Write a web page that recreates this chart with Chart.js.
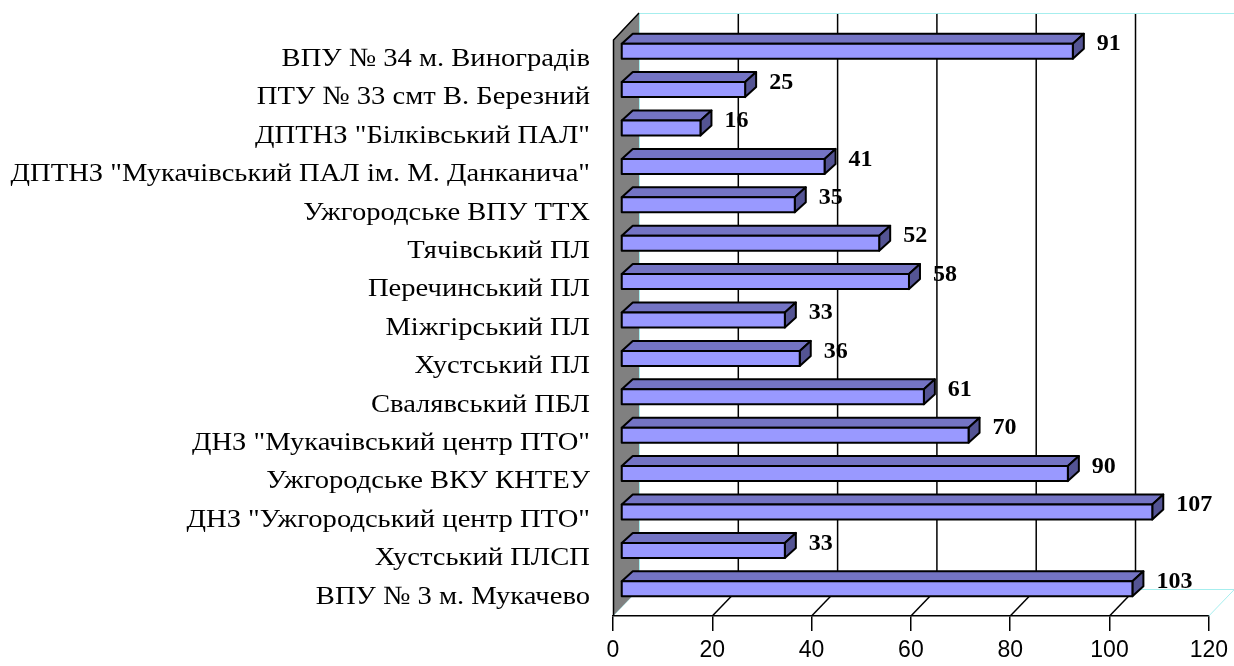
<!DOCTYPE html>
<html>
<head>
<meta charset="utf-8">
<script src="https://cdn.jsdelivr.net/npm/chart.js@4"></script>
<style>
  html, body { margin: 0; padding: 0; background: #fff; }
  canvas { display: block; }
</style>
</head>
<body>
<canvas id="chart" width="1234" height="666"></canvas>
<script>
// categories top to bottom, as in the picture
const categories = [
    'ВПУ № 34 м. Виноградів',
    'ПТУ № 33 смт В. Березний',
    'ДПТНЗ "Білківський ПАЛ"',
    'ДПТНЗ "Мукачівський ПАЛ ім. М. Данканича"',
    'Ужгородське ВПУ ТТХ',
    'Тячівський ПЛ',
    'Перечинський ПЛ',
    'Міжгірський ПЛ',
    'Хустський ПЛ',
    'Свалявський ПБЛ',
    'ДНЗ "Мукачівський центр ПТО"',
    'Ужгородське ВКУ КНТЕУ',
    'ДНЗ "Ужгородський центр ПТО"',
    'Хустський ПЛСП',
    'ВПУ № 3 м. Мукачево'
];
const values = [91, 25, 16, 41, 35, 52, 58, 33, 36, 61, 70, 90, 107, 33, 103];
const xTicks = [0, 20, 40, 60, 80, 100, 120];

// 3D look (pixels)
const DX = 26, DY = -27;          // depth of the box
const BAR_X = 8, BAR_Y = -8;      // where the bars sit in the depth
const BAR_H = 15;                 // front face height
const BDX = 11, BDY = -10;        // bar depth
const CYAN = '#a6eeee';

const walls = {
    id: 'walls',
    beforeDatasetsDraw(chart) {
        const { ctx, chartArea: a, scales: { x } } = chart;
        ctx.save();
        ctx.lineWidth = 1.5;

        // back wall grid lines
        ctx.strokeStyle = '#000';
        xTicks.slice(1, -1).forEach(v => {
            const px = x.getPixelForValue(v) + DX;
            ctx.beginPath();
            ctx.moveTo(px, a.top + DY);
            ctx.lineTo(px, a.bottom + DY);
            ctx.stroke();
        });
        // back wall edges
        ctx.lineWidth = 1;
        ctx.strokeStyle = CYAN;
        ctx.beginPath();
        ctx.moveTo(a.left + DX + 0.5, a.bottom + DY);
        ctx.lineTo(a.left + DX + 0.5, a.top + DY + 0.5);
        ctx.lineTo(a.right + DX, a.top + DY + 0.5);
        ctx.moveTo(a.left + DX, a.bottom + DY + 0.5);
        ctx.lineTo(a.right + DX, a.bottom + DY + 0.5);
        ctx.stroke();

        // floor lines
        xTicks.forEach((v, i) => {
            const px = x.getPixelForValue(v);
            const edge = i === 0 || i === xTicks.length - 1;
            ctx.strokeStyle = edge ? CYAN : '#000';
            ctx.lineWidth = edge ? 1 : 1.5;
            ctx.beginPath();
            ctx.moveTo(px, a.bottom);
            ctx.lineTo(px + DX, a.bottom + DY);
            ctx.stroke();
        });

        // left side wall
        ctx.fillStyle = '#808080';
        ctx.strokeStyle = '#000';
        ctx.lineWidth = 1.5;
        ctx.beginPath();
        ctx.moveTo(a.left, a.top);
        ctx.lineTo(a.left + DX, a.top + DY);
        ctx.lineTo(a.left + DX, a.bottom + DY);
        ctx.lineTo(a.left, a.bottom);
        ctx.closePath();
        ctx.fill();
        ctx.beginPath();
        ctx.moveTo(a.left + 0.5, a.bottom);
        ctx.lineTo(a.left + 0.5, a.top);
        ctx.lineTo(a.left + DX, a.top + DY);
        ctx.stroke();

        // category labels (Excel-style, a little wide)
        const y = chart.scales.y;
        ctx.fillStyle = '#000';
        ctx.font = '26px "Liberation Serif", "Times New Roman", serif';
        ctx.textAlign = 'right';
        ctx.textBaseline = 'middle';
        categories.forEach((c, i) => {
            ctx.save();
            ctx.translate(a.left - 23, y.getPixelForValue(i));
            ctx.scale(1.1, 1);
            ctx.fillText(c, 0, 0);
            ctx.restore();
        });
        ctx.restore();
    }
};

const bars3d = {
    id: 'bars3d',
    afterDatasetsDraw(chart) {
        const { ctx } = chart;
        const meta = chart.getDatasetMeta(0);
        ctx.save();
        ctx.lineWidth = 2;
        ctx.strokeStyle = '#000';
        ctx.lineJoin = 'round';
        meta.data.forEach((bar, i) => {
            const x0 = bar.base + BAR_X;
            const x1 = bar.x + BAR_X;
            const yT = bar.y + BAR_Y - BAR_H / 2;
            const yB = yT + BAR_H;

            const poly = (pts, fill) => {
                ctx.beginPath();
                ctx.moveTo(pts[0][0], pts[0][1]);
                pts.slice(1).forEach(p => ctx.lineTo(p[0], p[1]));
                ctx.closePath();
                ctx.fillStyle = fill;
                ctx.fill();
                ctx.stroke();
            };
            // top face
            poly([[x0, yT], [x0 + BDX, yT + BDY], [x1 + BDX, yT + BDY], [x1, yT]], '#7474c4');
            // end face
            poly([[x1, yT], [x1 + BDX, yT + BDY], [x1 + BDX, yB + BDY], [x1, yB]], '#545494');
            // front face
            poly([[x0, yT], [x1, yT], [x1, yB], [x0, yB]], '#9999ff');

            // value label
            ctx.fillStyle = '#000';
            ctx.font = 'bold 24px "Liberation Serif", "Times New Roman", serif';
            ctx.textAlign = 'left';
            ctx.textBaseline = 'middle';
            ctx.fillText(String(values[i]), x1 + BDX + 13, bar.y + BAR_Y - 7);
        });
        ctx.restore();
    }
};

new Chart(document.getElementById('chart'), {
    type: 'bar',
    data: {
        labels: categories,
        datasets: [{
            data: values,
            backgroundColor: 'rgba(0,0,0,0)',
            borderWidth: 0,
            barPercentage: 0.5,
            categoryPercentage: 1
        }]
    },
    options: {
        indexAxis: 'y',
        responsive: false,
        animation: false,
        devicePixelRatio: 1,
        layout: { padding: { top: 40, right: 21, left: 0, bottom: 0 } },
        plugins: {
            legend: { display: false },
            tooltip: { enabled: false }
        },
        scales: {
            x: {
                min: 0,
                max: 120,
                afterFit: s => { s.height = 50; },
                afterBuildTicks: s => { s.ticks = xTicks.map(v => ({ value: v })); },
                grid: { drawOnChartArea: false, drawTicks: true, tickLength: 15, color: '#000', lineWidth: 1.5 },
                border: { display: true, color: '#000', width: 1.5 },
                ticks: {
                    color: '#000',
                    padding: 6,
                    maxRotation: 0,
                    font: { family: '"Liberation Sans", Arial, sans-serif', size: 23 }
                }
            },
            y: {
                afterFit: s => { s.width = 613; },
                grid: { display: false },
                border: { display: false },
                ticks: { display: false }
            }
        }
    },
    plugins: [walls, bars3d]
});
</script>
</body>
</html>
